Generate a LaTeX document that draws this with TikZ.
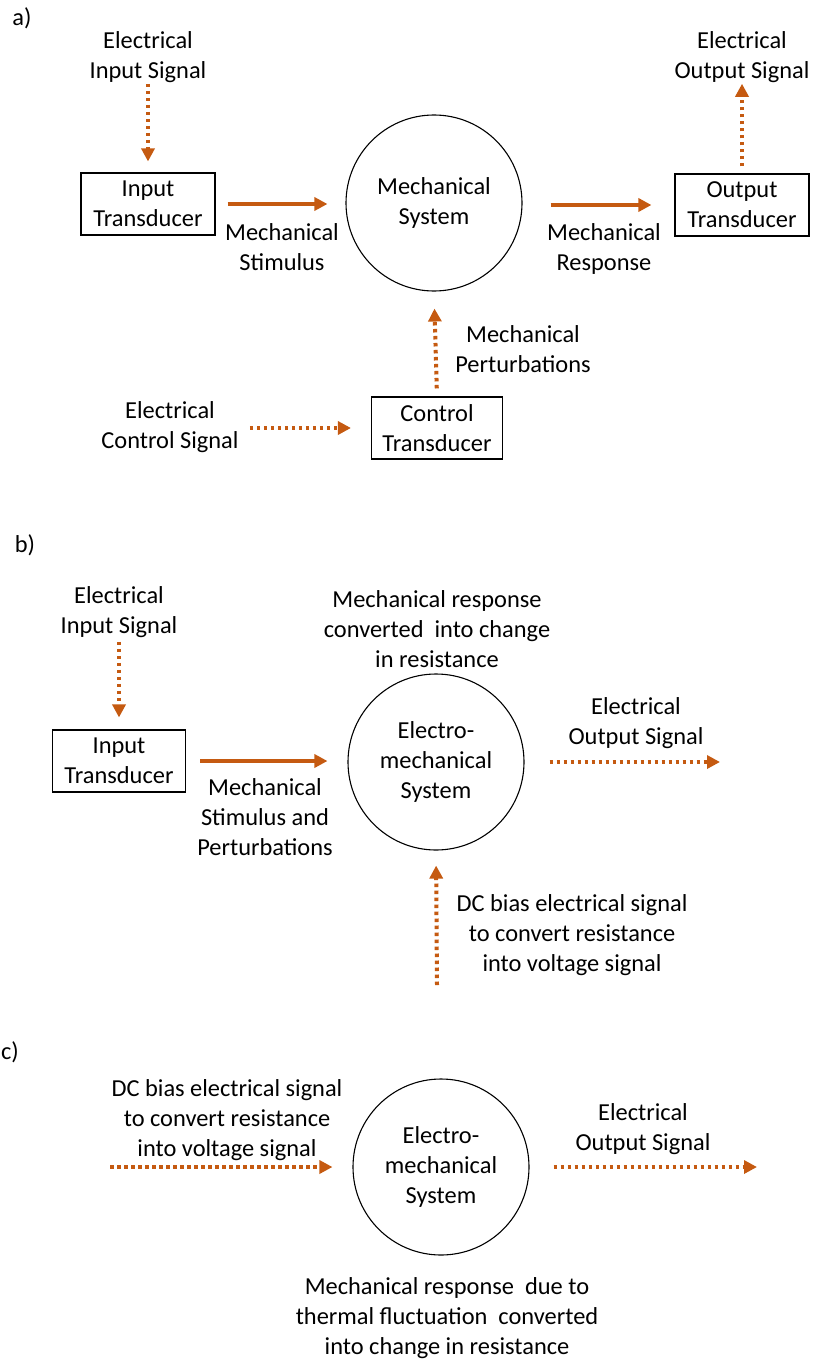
\documentclass[tikz,border=0pt]{standalone}
\usepackage{fontspec}
\setmainfont{Carlito}
\usetikzlibrary{arrows.meta}
\definecolor{arr}{RGB}{197,90,17}
\tikzset{
  lbl/.style={font=\fontsize{24.4}{30}\selectfont, align=center, inner sep=0pt},
  tbox/.style={lbl, draw, line width=1.1pt, minimum width=134pt, minimum height=62pt},
  sys/.style={lbl, draw, circle, line width=1.1pt, minimum size=176pt},
  mech/.style={draw=arr, line width=4.5pt, -{Triangle[length=13pt,width=13pt]}},
  sig/.style={mech, line width=4pt, dash pattern=on 3.5pt off 3.5pt}
}

\begin{document}
\begin{tikzpicture}[x=1pt,y=-1pt]
  \useasboundingbox (0,0) rectangle (817,1359);
  % a)
  \node[lbl] (a) at (22,18) {a)};
  \node[lbl] (ainlab) at (148,57) {Electrical\\Input Signal};
  \node[tbox] (ain) at (148,204) {Input\\Transducer};
  \node[sys] (asys) at (434,203) {Mechanical\\System};
  \node[tbox] (aout) at (742,205) {Output\\Transducer};
  \node[lbl] (aoutlab) at (742,57) {Electrical\\Output Signal};
  \node[lbl] (astim) at (282,247) {Mechanical\\Stimulus};
  \node[lbl] (aresp) at (604,249) {Mechanical\\Response};
  \node[tbox, minimum width=131pt] (actl) at (437,428) {Control\\Transducer};
  \node[lbl] (actllab) at (170,427) {Electrical\\Control Signal};
  \node[lbl] (apert) at (523,349) {Mechanical\\Perturbations};
  \draw[sig, shorten <=1pt, shorten >=11pt] (ainlab.south) -- (ain.north);
  \draw[mech, shorten <=12pt, shorten >=18pt] (ain.east) -- (ain.east -| asys.west);
  \draw[mech, shorten <=28pt, shorten >=23pt] (asys.east |- aout.west) -- (aout.west);
  \draw[sig, shorten <=7pt, shorten >=1pt] (aout.north) -- (aoutlab.south);
  \draw[sig, shorten <=11pt, shorten >=20pt] (actllab.east |- actl.west) -- (actl.west);
  \draw[sig, shorten <=8pt, shorten >=17pt] (actl.north) -- (asys.south);
  % b)
  \node[lbl] (b) at (25,545) {b)};
  \node[lbl] (binlab) at (119,612) {Electrical\\Input Signal};
  \node[tbox, minimum width=133pt] (bin) at (119,761) {Input\\Transducer};
  \node[sys] (bsys) at (436,762) {Electro-\\mechanical\\System};
  \node[lbl] (bstim) at (265,817) {Mechanical\\Stimulus and\\Perturbations};
  \node[lbl] (btop) at (437,629) {Mechanical response\\converted~ into change\\in resistance};
  \node[lbl] (boutlab) at (636,723) {Electrical\\Output Signal};
  \node[lbl] (bbias) at (572,935) {DC bias electrical signal\\to convert resistance\\into voltage signal};
  \coordinate (bend) at (720,762);
  \coordinate (bstart) at (437,985);
  \draw[sig, shorten <=4pt, shorten >=12pt] (binlab.south) -- (bin.north);
  \draw[mech, shorten <=14pt, shorten >=20pt] (bin.east) -- (bin.east -| bsys.west);
  \draw[sig, shorten <=25pt] (bsys.east) -- (bend);
  \draw[sig, shorten >=15pt] (bstart) -- (bsys.south);
  % c)
  \node[lbl] (c) at (10,1052) {c)};
  \node[sys] (csys) at (441,1167) {Electro-\\mechanical\\System};
  \node[lbl] (cbias) at (227,1120) {DC bias electrical signal\\to convert resistance\\into voltage signal};
  \node[lbl] (coutlab) at (643,1129) {Electrical\\Output Signal};
  \node[lbl] (cresp) at (447,1318) {Mechanical response~ due to\\thermal fluctuation~ converted\\into change in resistance};
  \coordinate (cstart) at (110,1167);
  \coordinate (cend) at (757,1167);
  \draw[sig, shorten >=20pt] (cstart) -- (csys.west);
  \draw[sig, shorten <=24pt] (csys.east) -- (cend);
\end{tikzpicture}
\end{document}
